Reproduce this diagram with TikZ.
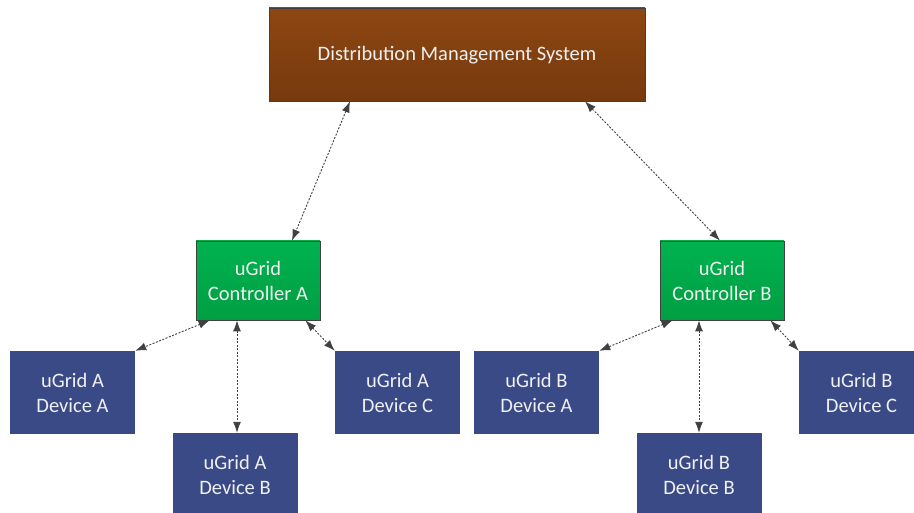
\documentclass[tikz,border=0pt]{standalone}
\usepackage{fontspec}
\setmainfont{Carlito}
\usetikzlibrary{arrows.meta}
\definecolor{dmsTop}{HTML}{8D4613}
\definecolor{dmsBot}{HTML}{773A0D}
\definecolor{ctlTop}{HTML}{00B24F}
\definecolor{ctlBot}{HTML}{009E43}
\definecolor{devFill}{HTML}{3A4A86}
\definecolor{lineGray}{HTML}{404040}
\begin{document}
\begin{tikzpicture}[x=1pt, y=-1pt,
    box/.style={rectangle, align=center, text=white!94!black, inner sep=0pt,
        font=\fontsize{20.5}{25}\selectfont},
    dmsbox/.style={box, draw=lineGray, line width=0.8pt, top color=dmsTop, bottom color=dmsBot,
        minimum width=376pt, minimum height=93pt, text height=12pt, text depth=0pt},
    ctlbox/.style={box, draw=lineGray, line width=0.8pt, top color=ctlTop, bottom color=ctlBot,
        minimum width=124pt, minimum height=79pt},
    devbox/.style={box, fill=devFill, minimum width=125pt, minimum height=83pt},
    link/.style={draw=lineGray, line width=0.9pt, dash pattern=on 2pt off 1.5pt,
        {Latex[length=11pt,width=8pt]}-{Latex[length=11pt,width=8pt]}}]
        \useasboundingbox (0,0) rectangle (914,513);
        
        \node[dmsbox] (dms) at (457,54.5) {Distribution Management System};
        
        \node[ctlbox] (ctlA) at (258,280.5) {uGrid\\Controller A};
        \node[ctlbox] (ctlB) at (722,280.5) {uGrid\\Controller B};
        
        \node[devbox] (devAA) at (72.5,392.5) {uGrid A\\Device A};
        \node[devbox] (devAB) at (235,474.5) {uGrid A\\Device B};
        \node[devbox] (devAC) at (397.5,392.5) {uGrid A\\Device C};
        \node[devbox] (devBA) at (536.5,392.5) {uGrid B\\Device A};
        \node[devbox] (devBB) at (699,474.5) {uGrid B\\Device B};
        \node[devbox] (devBC) at (861.5,392.5) {uGrid B\\Device C};
        
        \draw[link] ([xshift=-107pt]dms.south) -- ([xshift=34pt]ctlA.north);
        \draw[link] ([xshift=128pt]dms.south) -- ([xshift=-2pt]ctlB.north);
        
        \draw[link] ([xshift=14pt]ctlA.south west) -- (devAA.north east);
        \draw[link] ([xshift=-21pt]ctlA.south) -- ([xshift=-21pt]ctlA.south |- devAB.north);
        \draw[link] ([xshift=-15pt]ctlA.south east) -- (devAC.north west);
        \draw[link] ([xshift=13pt]ctlB.south west) -- (devBA.north east);
        \draw[link] ([xshift=-23pt]ctlB.south) -- ([xshift=-23pt]ctlB.south |- devBB.north);
        \draw[link] ([xshift=-14pt]ctlB.south east) -- (devBC.north west);
        
    \end{tikzpicture}
\end{document}
